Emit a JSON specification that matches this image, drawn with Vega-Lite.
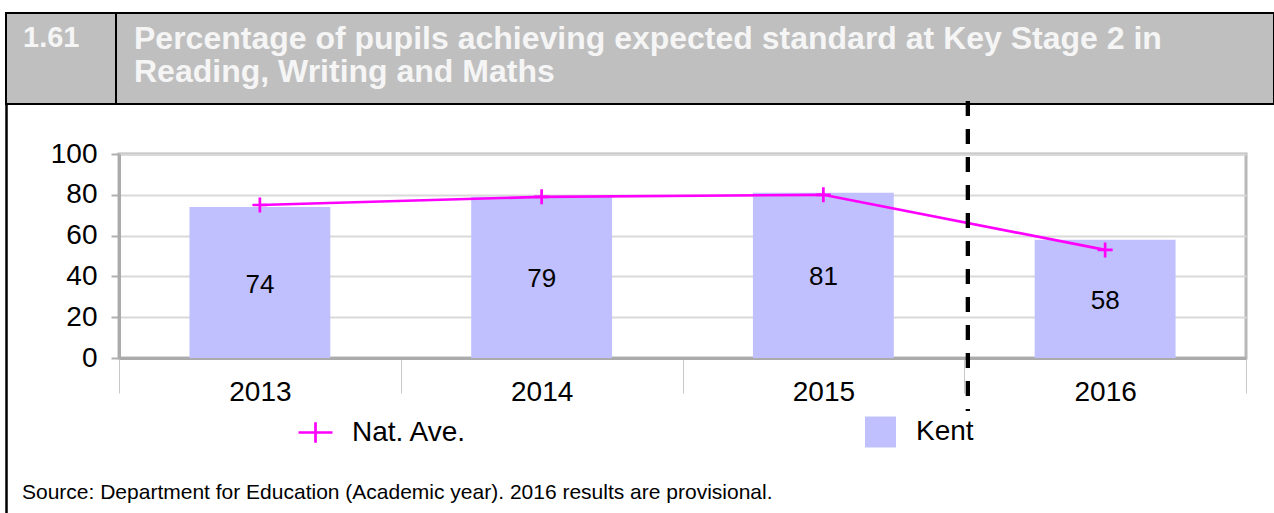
{
  "$schema": "https://vega.github.io/schema/vega-lite/v6.json",
  "padding": {"left": 5, "top": 12, "right": 0, "bottom": 0},
  "background": "white",
  "bounds": "flush",
  "spacing": 91,
  "config": {
    "font": "Liberation Sans",
    "view": {"stroke": null},
    "axis": {"title": null, "labelFont": "Liberation Sans", "labelFontSize": 28, "labelColor": "black", "domainColor": "#ababab", "domainWidth": 3},
    "axisX": {"labelAngle": 0, "tickBand": "extent", "tickSize": 35, "tickColor": "#c8c8c8", "tickWidth": 1, "labelPadding": -15, "grid": false},
    "axisY": {"grid": true, "gridColor": "#d9d9d9", "gridWidth": 2, "tickColor": "#b0b0b0", "tickWidth": 2, "tickSize": 8, "labelPadding": 14},
    "legend": {"orient": "none", "padding": 0, "labelFont": "Liberation Sans", "labelFontSize": 28, "labelColor": "black", "title": null}
  },
  "vconcat": [
    {
      "bounds": "flush",
      "spacing": 0,
      "hconcat": [
        {
          "width": 110,
          "height": 91,
          "view": {"fill": "#bfbfbf", "stroke": "black", "strokeWidth": 2},
          "title": {"text": "1.61", "orient": "bottom", "anchor": "start", "frame": "group", "baseline": "top", "offset": 0, "dx": 17, "dy": -80, "font": "Liberation Sans", "fontSize": 29, "fontWeight": "bold", "color": "#f5f5f5", "limit": 1500},
          "data": {"values": []},
          "mark": "point"
        },
        {
          "width": 1158,
          "height": 91,
          "view": {"fill": "#bfbfbf", "stroke": "black", "strokeWidth": 2},
          "title": {"text": ["Percentage of pupils achieving expected standard at Key Stage 2 in", "Reading, Writing and Maths"], "orient": "bottom", "anchor": "start", "frame": "group", "baseline": "top", "offset": 0, "dx": 18, "dy": -80, "lineHeight": 33, "font": "Liberation Sans", "fontSize": 32, "fontWeight": "bold", "color": "#f5f5f5", "limit": 1500},
          "data": {"values": []},
          "mark": "point"
        }
      ]
    },
    {
      "bounds": "flush",
      "spacing": 112,
      "hconcat": [
        {
          "width": 1,
          "height": 409,
          "view": {"stroke": "black", "strokeWidth": 1.5},
          "title": {"text": "Source: Department for Education (Academic year). 2016 results are provisional.", "orient": "bottom", "anchor": "start", "frame": "group", "baseline": "top", "offset": 0, "dx": 16, "dy": -31, "font": "Liberation Sans", "fontSize": 21, "fontWeight": "normal", "color": "black", "limit": 1500},
          "data": {"values": []},
          "mark": "point"
        },
        {
          "bounds": "flush",
          "spacing": 0,
          "vconcat": [
            {
              "width": 1127,
              "height": 50,
              "view": {"stroke": null},
              "data": {"values": []},
              "mark": "point"
            },
            {
              "width": 1127,
              "height": 204,
              "view": {"stroke": "#b8b8b8", "strokeWidth": 3},
              "data": {
                "values": [
                  {"year": "2013", "kent": 74, "nat": 75},
                  {"year": "2014", "kent": 79, "nat": 79},
                  {"year": "2015", "kent": 81, "nat": 80},
                  {"year": "2016", "kent": 58, "nat": 53}
                ]
              },
              "encoding": {
                "x": {"field": "year", "type": "ordinal", "scale": {"paddingInner": 0, "paddingOuter": 0}, "axis": {"title": null}}
              },
              "layer": [
                {
                  "layer": [
                    {
                      "mark": {"type": "bar", "width": {"band": 0.5}},
                      "encoding": {
                        "y": {"field": "kent", "type": "quantitative", "scale": {"domain": [0, 100], "nice": false}, "axis": {"values": [0, 20, 40, 60, 80, 100]}},
                        "fill": {"datum": "Kent", "scale": {"range": ["#c0c0ff"]}, "legend": {"legendX": 859, "legendY": 403.5, "symbolType": "square", "symbolSize": 961, "symbolStrokeWidth": 0, "labelOffset": 20}}
                      }
                    },
                    {
                      "mark": {"type": "line", "strokeWidth": 2.7},
                      "encoding": {
                        "y": {"field": "nat", "type": "quantitative", "scale": {"domain": [0, 100], "nice": false}},
                        "stroke": {"datum": "Nat. Ave.", "scale": {"range": ["#ff00ff"]}, "legend": {"legendX": 291, "legendY": 401, "symbolType": "M-1,0H1M0,-0.6V0.6", "symbolSize": 1156, "symbolStrokeWidth": 2.7, "symbolFillColor": "transparent", "labelOffset": 18}}
                      }
                    },
                    {
                      "mark": {"type": "point", "shape": "M-1,0H1M0,-1V1", "size": 225, "strokeWidth": 2.7, "filled": false, "opacity": 1},
                      "encoding": {
                        "y": {"field": "nat", "type": "quantitative", "scale": {"domain": [0, 100], "nice": false}},
                        "stroke": {"datum": "Nat. Ave.", "legend": {"legendX": 291, "legendY": 401, "symbolType": "M-1,0H1M0,-0.6V0.6", "symbolSize": 1156, "symbolStrokeWidth": 2.7, "symbolFillColor": "transparent", "labelOffset": 18}}
                      }
                    },
                    {
                      "mark": {"type": "rule", "color": "black", "strokeWidth": 4, "strokeDash": [15, 13]},
                      "encoding": {
                        "x": {"datum": "2016", "type": "ordinal", "bandPosition": 0.013},
                        "y": {"datum": 126, "type": "quantitative", "scale": {"domain": [0, 100], "nice": false}},
                        "y2": {"datum": -26}
                      }
                    }
                  ]
                },
                {
                  "mark": {"type": "text", "fontSize": 26, "baseline": "middle", "dy": 2, "color": "black"},
                  "encoding": {
                    "y": {"field": "kent", "type": "quantitative", "scale": {"domain": [0, 200], "nice": false}, "axis": null},
                    "text": {"field": "kent", "type": "quantitative"}
                  }
                }
              ],
              "resolve": {"scale": {"y": "independent"}}
            }
          ]
        }
      ]
    }
  ]
}
